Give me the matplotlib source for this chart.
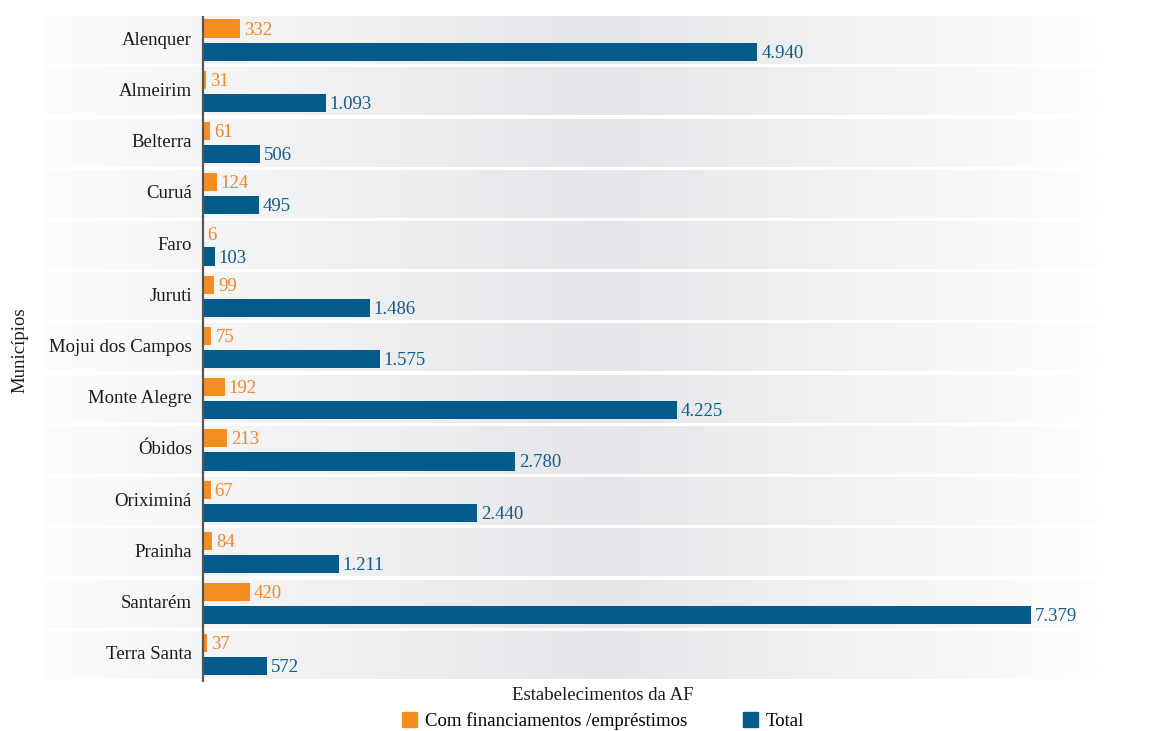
import numpy as np
import matplotlib
matplotlib.use("Agg")
import matplotlib.pyplot as plt
from matplotlib.patches import Patch
from matplotlib.colors import LinearSegmentedColormap

municipios = ["Alenquer", "Almeirim", "Belterra", "Curuá", "Faro", "Juruti",
              "Mojui dos Campos", "Monte Alegre", "Óbidos", "Oriximiná",
              "Prainha", "Santarém", "Terra Santa"]
com_financ = [332, 31, 61, 124, 6, 99, 75, 192, 213, 67, 84, 420, 37]
total = [4940, 1093, 506, 495, 103, 1486, 1575, 4225, 2780, 2440, 1211, 7379, 572]

orange = "#F68D22"
blue = "#025B8A"

plt.rcParams['font.family'] = ['Liberation Serif', 'DejaVu Serif']
plt.rcParams['font.size'] = 13.5

fig = plt.figure(figsize=(11.62, 7.31), dpi=100)
# axes spans the grey bands, x=0 sits at the dark vertical line
ax = fig.add_axes([45/1162, 49/731, 1055/1162, 666/731])
xmin, xmax = -1408, 7994

# gradient bands behind each row
cmap = LinearSegmentedColormap.from_list(
    "band", [(0.0, "#fcfcfc"), (0.53, "#e5e6e9"), (1.0, "#fefefe")])
grad = np.linspace(0, 1, 400).reshape(1, -1)
y = np.arange(len(municipios))
for i in y:
    ax.imshow(grad, cmap=cmap, aspect="auto", extent=(xmin, xmax, i + 0.468, i - 0.468),
              zorder=0, interpolation="bilinear")
ax.set_xlim(xmin, xmax)
ax.set_ylim(12.53, -0.47)

h = 0.355
off = 0.225
ax.barh(y - off, com_financ, height=h, color=orange, zorder=2)
ax.barh(y + off, total, height=h, color=blue, zorder=2)

def fmt(v):
    return f"{v:,}".replace(",", ".")

for i in y:
    ax.text(com_financ[i] + 35, i - off + 0.03, fmt(com_financ[i]), color="#F0852A",
            va="center", ha="left", zorder=3)
    ax.text(total[i] + 35, i + off + 0.03, fmt(total[i]), color="#0F5E8C",
            va="center", ha="left", zorder=3)
    ax.text(-98, i, municipios[i], color="#1a1a1a", va="center", ha="right", zorder=3)

ax.axvline(0, color="#555555", lw=1.6, zorder=4)
for s in ax.spines.values():
    s.set_visible(False)
ax.set_xticks([])
ax.set_yticks([])

fig.text(20/1162, 1 - 350/731, "Municípios", rotation=90, ha="center", va="center",
         color="#1a1a1a")
fig.text(603/1162, 1 - 695/731, "Estabelecimentos da AF", ha="center", va="center",
         color="#1a1a1a")

handles = [Patch(color=orange, label="Com financiamentos /empréstimos"),
           Patch(color=blue, label="Total")]
fig.legend(handles=handles, loc="center", bbox_to_anchor=(603/1162, 1 - 721/731),
           ncol=2, frameon=False, handlelength=0.8, handleheight=0.8,
           handletextpad=0.4, columnspacing=3.0)

fig.savefig("out.png", dpi=100, facecolor="white")
